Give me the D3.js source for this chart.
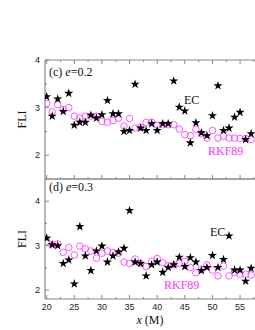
<!DOCTYPE html>
<html><head><meta charset="utf-8">
<script src="https://cdn.jsdelivr.net/npm/d3@7"></script>
<style>body{margin:0;background:#fff}svg{display:block}</style>
</head><body>
<script>
const xs = d3.range(20, 58);
const ecC = [3.23,2.82,3.18,2.92,3.30,2.63,2.69,2.69,2.84,2.78,2.85,3.15,2.87,2.87,2.50,2.52,3.49,2.57,2.52,2.66,2.52,2.66,2.66,3.56,3.01,2.93,2.26,2.68,2.47,2.41,2.83,3.46,2.52,2.57,2.80,2.90,2.33,2.45];
const rkC = [3.09,2.91,3.06,2.96,3.00,2.82,2.78,2.82,2.82,2.82,2.71,2.69,2.73,2.78,2.61,2.77,2.57,2.59,2.69,2.69,2.63,2.64,2.64,2.64,2.55,2.43,2.41,2.54,2.45,2.36,2.52,2.36,2.40,2.36,2.36,2.35,2.35,2.33];
const ecD = [3.17,3.02,3.00,2.60,2.68,2.14,3.43,2.77,2.44,2.88,2.99,2.63,2.77,2.86,2.94,3.79,2.63,2.60,2.32,2.57,2.63,2.40,2.51,2.57,2.74,2.53,2.73,2.63,2.44,2.51,2.78,2.51,2.69,3.22,2.45,2.45,2.20,2.49];
const rkD = [3.10,3.02,3.04,2.85,2.96,2.79,2.99,2.93,2.88,2.72,2.83,2.88,2.85,2.83,2.63,2.60,2.70,2.60,2.53,2.65,2.71,2.62,2.55,2.57,2.60,2.65,2.51,2.39,2.47,2.57,2.45,2.32,2.54,2.32,2.40,2.36,2.36,2.34];
const xTicks = [20,25,30,35,40,45,50,55];
const yTicks = [2,3,4];

const W = 255, H = 330;
const svg = d3.select("body").append("svg").attr("width", W).attr("height", H);
const axisCol = "#888";
const x = d3.scaleLinear().domain([19.7, 57.7]).range([45, 255]);

const panels = [
  {ec: ecC, rk: rkC, dom: [1.5, 4], top: 60, bot: 179, label: "0.2", tag: "(c) ",
   ecPos: [184, 104], rkPos: [208, 155], labY: 76, topTicks: true},
  {ec: ecD, rk: rkD, dom: [1.8, 4.5], top: 179, bot: 299, label: "0.3", tag: "(d) ",
   ecPos: [210, 236], rkPos: [164, 289], labY: 191, topTicks: false}
];

const star = d3.symbol().type(d3.symbolStar).size(26);

panels.forEach((p, pi) => {
  const y = d3.scaleLinear().domain(p.dom).range([p.bot, p.top]);
  const g = svg.append("g");
  // axes lines
  g.append("line").attr("x1", 45).attr("x2", 255).attr("y1", p.top).attr("y2", p.top).attr("stroke", axisCol).attr("stroke-width", 1.2);
  g.append("line").attr("x1", 45).attr("x2", 255).attr("y1", p.bot).attr("y2", p.bot).attr("stroke", axisCol).attr("stroke-width", 1.2);
  g.append("line").attr("x1", 45).attr("x2", 45).attr("y1", p.top).attr("y2", p.bot).attr("stroke", axisCol).attr("stroke-width", 1.2);
  // x ticks
  const xt = d3.range(20, 58, 2.5);
  xt.forEach(v => {
    const len = (v % 5 === 0) ? 4 : 2;
    g.append("line").attr("x1", x(v)).attr("x2", x(v)).attr("y1", p.bot).attr("y2", p.bot - len).attr("stroke", axisCol);
    if (p.topTicks) g.append("line").attr("x1", x(v)).attr("x2", x(v)).attr("y1", p.top).attr("y2", p.top + len).attr("stroke", axisCol);
  });
  // y ticks
  d3.range(Math.ceil(p.dom[0]*2)/2, p.dom[1] + 0.001, 0.5).forEach(v => {
    const major = Math.abs(v - Math.round(v)) < 1e-6;
    g.append("line").attr("x1", 45).attr("x2", 45 + (major ? 4 : 2)).attr("y1", y(v)).attr("y2", y(v)).attr("stroke", axisCol);
  });
  yTicks.forEach(v => {
    if (v < p.dom[0] || v > p.dom[1]) return;
    g.append("text").attr("x", 40).attr("y", y(v) + 3).attr("text-anchor", "end")
      .attr("font-family", "Liberation Sans, Arial, sans-serif").attr("font-size", 9).attr("fill", "#222").text(v);
  });
  // y label
  g.append("text").attr("transform", `translate(26,${(p.top + p.bot) / 2}) rotate(-90)`).attr("text-anchor", "middle")
    .attr("font-family", "Liberation Serif, Times New Roman, serif").attr("font-size", 12).attr("fill", "#111").text("FLI");
  // data
  const clip = "clip" + pi;
  svg.append("clipPath").attr("id", clip).append("rect").attr("x", 45).attr("y", p.top).attr("width", 212).attr("height", p.bot - p.top);
  const dg = g.append("g").attr("clip-path", `url(#${clip})`);
  dg.selectAll("circle").data(p.rk).join("circle")
    .attr("cx", (d, i) => x(xs[i])).attr("cy", d => y(d)).attr("r", 3.3)
    .attr("fill", "none").attr("stroke", "#ff44ff").attr("stroke-width", 0.9);
  dg.selectAll("path.st").data(p.ec).join("path").attr("class", "st")
    .attr("d", star).attr("transform", (d, i) => `translate(${x(xs[i])},${y(d)})`).attr("fill", "#000");
  // labels
  const t = g.append("text").attr("x", 49).attr("y", p.labY)
    .attr("font-family", "Liberation Serif, Times New Roman, serif").attr("font-size", 12).attr("fill", "#111");
  t.append("tspan").text(p.tag);
  t.append("tspan").attr("font-style", "italic").text("e");
  t.append("tspan").text("=" + p.label);
  g.append("text").attr("x", p.ecPos[0]).attr("y", p.ecPos[1])
    .attr("font-family", "Liberation Serif, Times New Roman, serif").attr("font-size", 12).attr("fill", "#111").text("EC");
  g.append("text").attr("x", p.rkPos[0]).attr("y", p.rkPos[1])
    .attr("font-family", "Liberation Serif, Times New Roman, serif").attr("font-size", 12).attr("fill", "#ff33ff").text("RKF89");
  if (pi === 1) {
    xTicks.forEach(v => {
      g.append("text").attr("x", x(v)).attr("y", p.bot + 11).attr("text-anchor", "middle")
        .attr("font-family", "Liberation Sans, Arial, sans-serif").attr("font-size", 9).attr("fill", "#222").text(v);
    });
    const xl = g.append("text").attr("x", 150).attr("y", 324).attr("text-anchor", "middle")
      .attr("font-family", "Liberation Serif, Times New Roman, serif").attr("font-size", 12).attr("fill", "#111");
    xl.append("tspan").attr("font-style", "italic").text("x");
    xl.append("tspan").text(" (M)");
  }
});
</script>
</body></html>
